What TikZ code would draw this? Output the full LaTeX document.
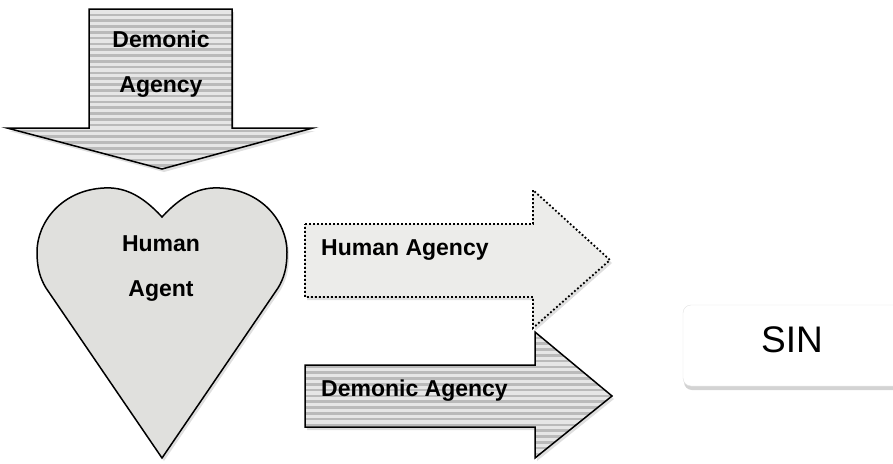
\documentclass[tikz,border=0pt]{standalone}
\usepackage{fontspec}
\setmainfont{Liberation Sans}
\usetikzlibrary{shadows}
\definecolor{stripelight}{HTML}{E6E6E6}
\definecolor{stripedark}{HTML}{BABABA}
\definecolor{heartfill}{HTML}{E0E0DD}
\definecolor{dotfill}{HTML}{ECECEA}
\begin{document}
\begin{tikzpicture}[x=1pt,y=-1pt,
   lbl/.style={font=\fontsize{23}{45}\selectfont\bfseries,inner sep=0pt},
   shade/.style={drop shadow={opacity=0.25,shadow xshift=2pt,shadow yshift=-3pt}},
   stripes/.style={draw,line width=1.5pt,line join=miter,fill=stripelight,shade,
     path picture={\foreach \k in {0,...,80}
       \draw[stripedark,line width=2.6pt]
         ([yshift=-\k*5.8pt]path picture bounding box.north west) --
         ([yshift=-\k*5.8pt]path picture bounding box.north east);}},
   dotbox/.style={draw,line width=1.8pt,dash pattern=on 1.8pt off 2.2pt,
     fill=dotfill,shade},
   heart/.style={draw,line width=1.5pt,fill=heartfill,shade},
   sinbox/.style={fill=white,draw=black!12,rounded corners=8pt,
     drop shadow={opacity=0.35,shadow xshift=1pt,shadow yshift=-4pt}}]
\useasboundingbox (0,0) rectangle (893,463);
% down arrow
\path[stripes] (89,9) -- (232,9) -- (232,128) -- (313,128) -- (162,169)
   -- (7,128) -- (89,128) -- cycle;
\node[lbl,align=center] (demon) at (161,64) {Demonic\\Agency};
% heart
\path[heart] (162,217) .. controls (140,193) and (122,187) .. (104,188)
   .. controls (62,190) and (37,222) .. (37,252)
   .. controls (37,268) and (40,278) .. (46,288) -- (162,458) -- (278,288)
   .. controls (284,278) and (287,268) .. (287,252)
   .. controls (287,222) and (262,190) .. (220,188)
   .. controls (202,187) and (184,193) .. (162,217) -- cycle;
\node[lbl,align=center] (agent) at (161,269) {Human\\Agent};
% right arrows
\path[dotbox] (305,224) -- (533,224) -- (533,190) -- (610,260) -- (533,328)
   -- (533,297) -- (305,297) -- cycle;
\node[lbl,anchor=west] (human) at (321,250) {Human Agency};
\path[stripes] (305,365) -- (535,365) -- (535,332) -- (612,396) -- (535,458)
   -- (535,427) -- (305,427) -- cycle;
\node[lbl,anchor=west] (demonic) at (321,391) {Demonic Agency};
% sin
\path[sinbox] (683,305) rectangle (910,386);
\node[font=\fontsize{37}{40}\selectfont,inner sep=0pt] (sin) at (792,340) {SIN};
\end{tikzpicture}
\end{document}
